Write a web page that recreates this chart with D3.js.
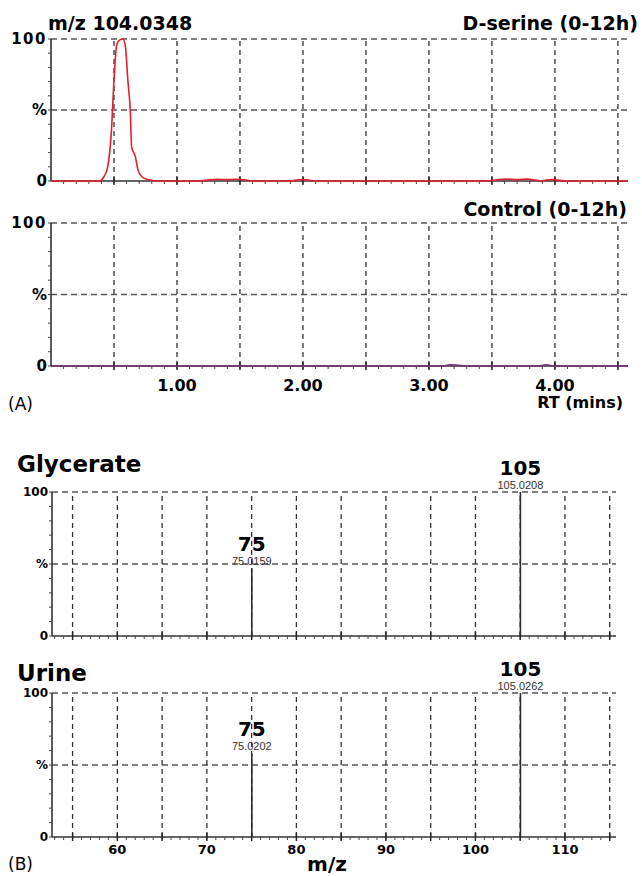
<!DOCTYPE html>
<html>
<head>
<meta charset="utf-8">
<script src="https://cdn.jsdelivr.net/npm/d3@7"></script>
<style>body{margin:0;background:#fff}</style>
</head>
<body>
<div id="chart"></div>
<script>
// panel A: ion chromatograms, m/z 104.0348
const rtTicks = [1, 2, 3, 4];
const serineRT  = [0, 0.38, 0.42, 0.45, 0.48, 0.50, 0.52, 0.54, 0.57, 0.59, 0.61, 0.63, 0.64, 0.67, 0.69, 0.72, 0.77, 0.84,
                   1.18, 1.25, 1.32, 1.40, 1.47, 1.55, 1.60, 1.90, 1.97, 2.03, 2.10,
                   3.48, 3.55, 3.62, 3.70, 3.78, 3.85, 3.89, 3.93, 3.98, 4.04, 4.08, 4.58];
const serineInt = [0, 0, 3, 10, 36, 71, 95, 99, 100, 95, 71, 48, 24, 17, 8, 3, 1, 0,
                   0, 0.8, 1.2, 1, 1.2, 0.7, 0, 0, 0.9, 0.8, 0,
                   0, 1, 1.3, 1, 1.3, 0.5, 0, 0.7, 1, 0.5, 0, 0];
const controlRT  = [0, 3.10, 3.17, 3.23, 3.30, 3.86, 3.93, 4.00, 4.58];
const controlInt = [0, 0, 0.8, 0.5, 0, 0, 0.8, 0, 0];

// panel B: mass spectra
const mzTicks = [60, 70, 80, 90, 100, 110];
const glycerateMz  = [75.0159, 105.0208];
const glycerateInt = [47, 100];
const urineMz  = [75.0202, 105.0262];
const urineInt = [58, 100];

const W = 642, H = 876;
const heavy = "'DejaVu Sans', sans-serif";
const plain = "'Liberation Sans', Arial, sans-serif";

const svg = d3.select("#chart").append("svg")
  .attr("width", W)
  .attr("height", H);
svg.append("rect").attr("width", W).attr("height", H).attr("fill", "#fff");

function txt(x, y, s, size, anchor = "start", weight = "bold", family = heavy) {
  return svg.append("text")
    .attr("x", x).attr("y", y)
    .attr("text-anchor", anchor)
    .style("font-family", family)
    .style("font-weight", weight)
    .style("font-size", size + "px")
    .attr("fill", "#000")
    .text(s);
}

// grid, axes, ticks and y labels of one plot
function frame(x, y, major, minor, ySize, ySpacing, yRight) {
  const g = svg.append("g");
  const [x0, x1] = x.range();
  const [y0, y1] = y.range();

  g.selectAll(".hg").data([50, 100]).enter().append("line")
    .attr("x1", x0).attr("x2", x1)
    .attr("y1", d => y(d)).attr("y2", d => y(d))
    .style("stroke", "#555").style("stroke-width", 1.3)
    .style("stroke-dasharray", "6,4");

  g.selectAll(".vg").data(major).enter().append("line")
    .attr("x1", d => x(d)).attr("x2", d => x(d))
    .attr("y1", y0).attr("y2", y1)
    .style("stroke", "#333").style("stroke-width", 1.3)
    .style("stroke-dasharray", "5,4");

  // axis lines
  g.append("line").attr("x1", x0).attr("x2", x0).attr("y1", y0).attr("y2", y1)
    .style("stroke", "#333").style("stroke-width", 1.6);
  g.append("line").attr("x1", x0).attr("x2", x1).attr("y1", y0).attr("y2", y0)
    .style("stroke", "#333").style("stroke-width", 1.4);

  // y minor ticks
  g.selectAll(".ym").data(d3.range(0, 101, 10)).enter().append("line")
    .attr("x1", x0 - 3).attr("x2", x0)
    .attr("y1", d => y(d)).attr("y2", d => y(d))
    .style("stroke", "#444").style("stroke-width", 1);

  // x ticks
  g.selectAll(".xm").data(minor).enter().append("line")
    .attr("x1", d => x(d)).attr("x2", d => x(d))
    .attr("y1", y0).attr("y2", y0 + 3)
    .style("stroke", "#444").style("stroke-width", 1);
  g.selectAll(".xM").data(major).enter().append("line")
    .attr("x1", d => x(d)).attr("x2", d => x(d))
    .attr("y1", y0 - 4).attr("y2", y0 + 4)
    .style("stroke", "#222").style("stroke-width", 1.4);

  [[100, "100"], [50, "%"], [0, "0"]].forEach(([v, s]) => {
    txt(yRight, y(v), s, ySize, "end")
      .attr("dy", "0.36em")
      .style("letter-spacing", s == "100" ? ySpacing + "px" : "0px");
  });
}

// ---------- panel A ----------
const xA = d3.scaleLinear().domain([0, 4.58]).range([51, 628]);
const yTop = d3.scaleLinear().domain([0, 100]).range([181, 39]);
const yCtl = d3.scaleLinear().domain([0, 100]).range([366, 223]);
const majorA = d3.range(0.5, 4.51, 0.5);
const minorA = d3.range(0.1, 4.58, 0.1);

frame(xA, yTop, majorA, minorA, 15, 1.5, 47);
frame(xA, yCtl, majorA, minorA, 15, 1.5, 47);

const lineA = (y) => d3.line()
  .x(d => xA(d[0]))
  .y(d => y(d[1]))
  .curve(d3.curveMonotoneX);

svg.append("path")
  .datum(d3.zip(serineRT, serineInt))
  .attr("d", lineA(yTop))
  .style("fill", "none")
  .style("stroke", "#e3202b")
  .style("stroke-width", 1.6);

svg.append("path")
  .datum(d3.zip(controlRT, controlInt))
  .attr("d", lineA(yCtl))
  .style("fill", "none")
  .style("stroke", "#7a2e7e")
  .style("stroke-width", 1.6);

txt(48, 30, "m/z 104.0348", 19);
txt(638, 30, "D-serine (0-12h)", 19, "end");
txt(627, 216, "Control (0-12h)", 19, "end");

rtTicks.forEach(t => txt(xA(t), 391, t.toFixed(2), 16, "middle"));
txt(623, 408, "RT (mins)", 16, "end");
txt(8, 410, "(A)", 17, "start", "normal");

// ---------- panel B ----------
const xB = d3.scaleLinear().domain([52.7, 115.7]).range([52, 616]);
const yGly = d3.scaleLinear().domain([0, 100]).range([636, 492]);
const yUri = d3.scaleLinear().domain([0, 100]).range([837, 693]);
const majorB = d3.range(55, 115.1, 5);
const minorB = d3.range(53, 115.7, 1);

frame(xB, yGly, majorB, minorB, 12, 0, 48);
frame(xB, yUri, majorB, minorB, 12, 0, 48);

function spectrum(mz, inten, y) {
  const g = svg.append("g");
  g.selectAll("line").data(d3.zip(mz, inten)).enter().append("line")
    .attr("x1", d => xB(d[0])).attr("x2", d => xB(d[0]))
    .attr("y1", y(0)).attr("y2", d => y(d[1]))
    .style("stroke", "#2a2a35").style("stroke-width", 1.6);
  d3.zip(mz, inten).forEach(([m, v]) => {
    txt(xB(m), y(v) - 17, Math.round(m), 20, "middle");
    txt(xB(m), y(v) - 3, m.toFixed(4), 11, "middle", "normal", plain).attr("fill", "#333");
  });
}
spectrum(glycerateMz, glycerateInt, yGly);
spectrum(urineMz, urineInt, yUri);

txt(17, 472, "Glycerate", 23);
txt(17, 681, "Urine", 23);

mzTicks.forEach(m => txt(xB(m), 854, m, 13, "middle"));
txt(327, 871, "m/z", 20, "middle");
txt(8, 870, "(B)", 17, "start", "normal");
</script>
</body>
</html>
